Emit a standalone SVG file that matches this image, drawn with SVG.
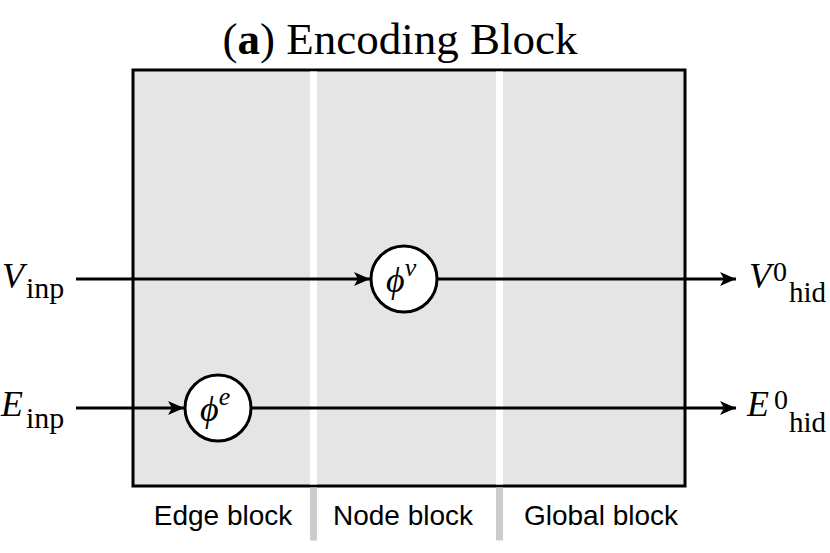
<svg xmlns="http://www.w3.org/2000/svg" width="830" height="553" viewBox="0 0 830 553">
<style>
.serif{font-family:"Liberation Serif","Times New Roman",serif;fill:#000}
.it{font-style:italic}
.sans{font-family:"Liberation Sans",Arial,sans-serif;font-size:28px;fill:#000}
.ln{stroke:#000;stroke-width:3;fill:none}
.circ{fill:#fff;stroke:#000;stroke-width:3}
</style>
<defs>
<marker id="ah" markerUnits="userSpaceOnUse" markerWidth="18" markerHeight="16" refX="16" refY="7" orient="auto">
<path d="M0,0 L16,7 L0,14 L4,7 z" fill="#000"/>
</marker>
</defs>
<text class="serif" x="400" y="54" font-size="45" text-anchor="middle">(<tspan font-weight="bold">a</tspan>) Encoding Block</text>
<g id="frame">
<rect x="133" y="70" width="552" height="416" fill="#e5e5e5" stroke="#000" stroke-width="3"/>
<rect x="310" y="71.5" width="7" height="413" fill="#fff"/>
<rect x="496" y="71.5" width="7" height="413" fill="#fff"/>
<rect x="310" y="487.5" width="7" height="53" fill="#cccccc"/>
<rect x="496" y="487.5" width="7" height="53" fill="#cccccc"/>
</g>
<g id="labels-blocks">
<text class="sans" x="223" y="525" text-anchor="middle">Edge block</text>
<text class="sans" x="403" y="525" text-anchor="middle">Node block</text>
<text class="sans" x="601" y="525" text-anchor="middle">Global block</text>
</g>
<g id="connectors">
<line class="ln" x1="76" y1="279" x2="370" y2="279" marker-end="url(#ah)"/>
<line class="ln" x1="437" y1="279" x2="736" y2="279" marker-end="url(#ah)"/>
<line class="ln" x1="76" y1="408" x2="184" y2="408" marker-end="url(#ah)"/>
<line class="ln" x1="251" y1="408" x2="736" y2="408" marker-end="url(#ah)"/>
</g>
<g id="node-phi-v">
<circle class="circ" cx="404" cy="279" r="33"/>
<text class="serif it" x="386" y="292" font-size="36">ϕ<tspan font-size="26" dy="-16">v</tspan></text>
</g>
<g id="node-phi-e">
<circle class="circ" cx="218" cy="408" r="33"/>
<text class="serif it" x="200" y="421" font-size="36">ϕ<tspan font-size="26" dy="-16">e</tspan></text>
</g>
<g id="in-v">
<text class="serif" y="288" font-size="36"><tspan class="it" x="2">V</tspan><tspan x="26" y="298" font-size="30">inp</tspan></text>
</g>
<g id="in-e">
<text class="serif" y="416" font-size="36"><tspan class="it" x="1">E</tspan><tspan x="26" y="428" font-size="30">inp</tspan></text>
</g>
<g id="out-v">
<text class="serif" y="288" font-size="36"><tspan class="it" x="749">V</tspan><tspan x="773" y="281" font-size="28">0</tspan><tspan x="789" y="302" font-size="29">hid</tspan></text>
</g>
<g id="out-e">
<text class="serif" y="416" font-size="36"><tspan class="it" x="747">E</tspan><tspan x="774" y="409" font-size="28">0</tspan><tspan x="789" y="432" font-size="29">hid</tspan></text>
</g>
</svg>
